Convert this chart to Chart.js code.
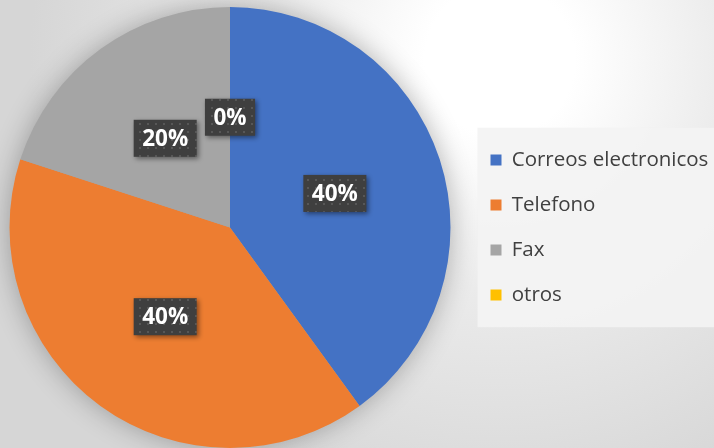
<!DOCTYPE html>
<html>
<head>
<meta charset="utf-8">
<script src="https://cdn.jsdelivr.net/npm/chart.js@4.4.1/dist/chart.umd.min.js"></script>
<style>
    html, body { margin: 0; padding: 0; }
    body {
        width: 714px;
        height: 448px;
        overflow: hidden;
        background: radial-gradient(circle at 500px 60px, #ffffff 0px, #ffffff 75px, #ebebeb 230px, #d6d6d6 470px);
    }
    #wrap { position: relative; width: 714px; height: 448px; }
</style>
</head>
<body>
<div id="wrap"><canvas id="pieChart"></canvas></div>
<script>
const categories = ['Correos electronicos', 'Telefono', 'Fax', 'otros'];
const shares = [40, 40, 20, 0];
const sliceColors = ['#4472C4', '#ED7D31', '#A5A5A5', '#FFC000'];

// dotted dark fill used behind the data labels
function makeDotPattern(ctx) {
    const tile = document.createElement('canvas');
    tile.width = 8;
    tile.height = 8;
    const t = tile.getContext('2d');
    t.fillStyle = '#3f3f3f';
    t.fillRect(0, 0, 8, 8);
    t.fillStyle = '#575757';
    t.fillRect(3, 3, 2, 2);
    return ctx.createPattern(tile, 'repeat');
}

// pie sits a little left of the middle of its area
const nudgeArea = {
    id: 'nudgeArea',
    afterLayout(chart) {
        chart.chartArea.left -= 6;
        chart.chartArea.width += 6;
    }
};

const legendBackground = {
    id: 'legendBackground',
    beforeDraw(chart) {
        const boxes = chart.legend.legendHitBoxes;
        if (!boxes || !boxes.length) return;
        const ctx = chart.ctx;
        const first = boxes[0];
        const last = boxes[boxes.length - 1];
        ctx.save();
        ctx.fillStyle = 'rgba(243,243,243,0.92)';
        ctx.fillRect(first.left - 13, first.top - 22, chart.width - first.left + 13, last.top + last.height - first.top + 44);
        ctx.restore();
    }
};

const pieShadow = {
    id: 'pieShadow',
    beforeDatasetsDraw(chart) {
        const arc = chart.getDatasetMeta(0).data[0];
        if (!arc) return;
        const ctx = chart.ctx;
        ctx.save();
        ctx.shadowColor = 'rgba(0,0,0,0.3)';
        ctx.shadowBlur = 28;
        ctx.fillStyle = '#a5a5a5';
        ctx.beginPath();
        ctx.arc(arc.x, arc.y, arc.outerRadius - 1, 0, Math.PI * 2);
        ctx.fill();
        ctx.restore();
    }
};

const boxLabels = {
    id: 'boxLabels',
    afterDatasetsDraw(chart) {
        const ctx = chart.ctx;
        const meta = chart.getDatasetMeta(0);
        const data = chart.data.datasets[0].data;
        const total = data.reduce((a, b) => a + b, 0);
        const pattern = makeDotPattern(ctx);
        ctx.save();
        ctx.font = 'bold 22.5px "Open Sans", sans-serif';
        ctx.textAlign = 'center';
        ctx.textBaseline = 'middle';
        meta.data.forEach((arc, i) => {
            const p = arc.getProps(['x', 'y', 'startAngle', 'endAngle', 'outerRadius'], true);
            const mid = (p.startAngle + p.endAngle) / 2;
            const r = p.outerRadius * 0.5;
            const cx = p.x + Math.cos(mid) * r;
            const cy = p.y + Math.sin(mid) * r;
            const text = Math.round(data[i] / total * 100) + '%';
            const w = ctx.measureText(text).width + 17;
            const h = 37;
            ctx.save();
            ctx.shadowColor = 'rgba(0,0,0,0.45)';
            ctx.shadowBlur = 5;
            ctx.shadowOffsetX = 2;
            ctx.shadowOffsetY = 2;
            ctx.fillStyle = pattern;
            ctx.fillRect(cx - w / 2, cy - h / 2, w, h);
            ctx.restore();
            ctx.fillStyle = '#ffffff';
            ctx.fillText(text, cx, cy + 1);
        });
        ctx.restore();
    }
};

new Chart(document.getElementById('pieChart'), {
    type: 'pie',
    data: {
        labels: categories,
        datasets: [{
            data: shares,
            backgroundColor: sliceColors,
            borderWidth: 0
        }]
    },
    options: {
        responsive: true,
        maintainAspectRatio: false,
        animation: false,
        layout: { padding: { top: 7, left: 0, right: 0, bottom: 0 } },
        plugins: {
            tooltip: { enabled: false },
            legend: {
                position: 'right',
                maxWidth: 248,
                labels: {
                    boxWidth: 11,
                    boxHeight: 11,
                    padding: 24.5,
                    color: '#404040',
                    font: { family: '"Open Sans", sans-serif', size: 20.5 }
                }
            }
        }
    },
    plugins: [nudgeArea, legendBackground, pieShadow, boxLabels]
});
</script>
</body>
</html>
